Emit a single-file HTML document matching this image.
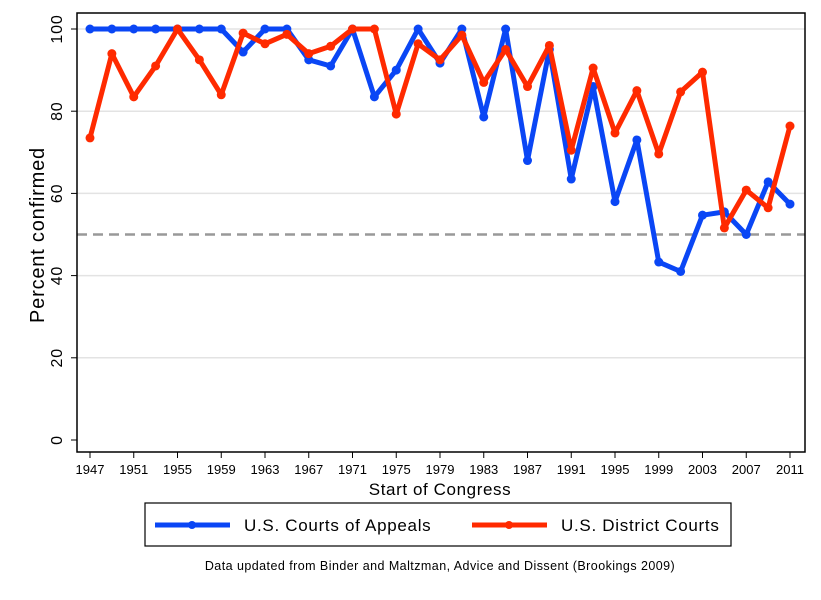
<!DOCTYPE html>
<html><head><meta charset="utf-8"><style>
body{margin:0;background:#fff;font-family:"Liberation Sans","Noto Sans CJK JP",sans-serif}
svg text{font-family:"Liberation Sans","Noto Sans CJK JP",sans-serif}
</style></head><body>
<svg id="c" width="821" height="595" xmlns="http://www.w3.org/2000/svg">
<rect x="0" y="0" width="821" height="595" fill="#fff"/>
<g id="grid"></g>
<g id="series"></g>
<rect x="77" y="13" width="728" height="439" fill="none" stroke="#000" stroke-width="1.5"/>
<g id="axes"></g>
<text x="44" y="235" font-size="20" letter-spacing="0.8" text-anchor="middle" transform="rotate(-90 44 235)">Percent confirmed</text>
<text x="440" y="495" font-size="17" letter-spacing="0.6" text-anchor="middle">Start of Congress</text>
<g>
<rect x="145" y="503" width="586" height="43" fill="#fff" stroke="#000" stroke-width="1.2"/>
<g>
<line x1="155" y1="525" x2="230" y2="525" stroke="#0a46f5" stroke-width="5"/><circle cx="192" cy="525" r="4" fill="#0a46f5"/>
<text x="244" y="531" font-size="17" letter-spacing="0.7">U.S. Courts of Appeals</text></g>
<g>
<line x1="472" y1="525" x2="547" y2="525" stroke="#ff2a00" stroke-width="5"/><circle cx="509" cy="525" r="4" fill="#ff2a00"/>
<text x="561" y="531" font-size="17" letter-spacing="0.7">U.S. District Courts</text></g>
</g>
<text x="440" y="570" font-size="12.5" letter-spacing="0.45" text-anchor="middle">Data updated from Binder and Maltzman, Advice and Dissent (Brookings 2009)</text>
</svg>
<script>
const years=[1947,1949,1951,1953,1955,1957,1959,1961,1963,1965,1967,1969,1971,1973,1975,1977,1979,1981,1983,1985,1987,1989,1991,1993,1995,1997,1999,2001,2003,2005,2007,2009,2011];
const appeals=[100,100,100,100,100,100,100,94.4,100,100,92.5,91,100,83.5,90,100,91.7,100,78.6,100,68,95,63.5,86,58,73,43.3,41,54.7,55.5,50,62.8,57.4];
const district=[73.5,94,83.5,91,100,92.5,84,99,96.4,98.7,94,95.8,100,100,79.3,96.4,92.5,98.5,87,95,86,96,70.5,90.5,74.7,85,69.6,84.7,89.5,51.6,60.8,56.5,76.4];
const yTicks=[0,20,40,60,80,100];
const xTicks=[1947,1951,1955,1959,1963,1967,1971,1975,1979,1983,1987,1991,1995,1999,2003,2007,2011];
const refLine=50;
const NS="http://www.w3.org/2000/svg";
const X=y=>90+(y-1947)*(700/64);
const Y=v=>440-v*4.11;
function mk(t,a,p){const e=document.createElementNS(NS,t);for(const k in a)e.setAttribute(k,a[k]);p.appendChild(e);return e;}
const grid=document.getElementById('grid'),axes=document.getElementById('axes'),ser=document.getElementById('series');
yTicks.forEach(v=>{
 if(v>0){const g=mk('line',{x1:77,x2:805,y1:Y(v),y2:Y(v),stroke:'#e3e3e3','stroke-width':1.5},grid);
 
 }
 const t=mk('line',{x1:71,x2:77,y1:Y(v),y2:Y(v),stroke:'#000'},axes);
 
 
 const l=mk('text',{x:62,y:Y(v),'font-size':16,'letter-spacing':0.8,'text-anchor':'middle',transform:`rotate(-90 62 ${Y(v)})`},axes);
 l.textContent=v;
 
 
});
const rl=mk('line',{x1:77,x2:805,y1:Y(refLine),y2:Y(refLine),stroke:'#999','stroke-width':2.5,'stroke-dasharray':'10 6'},grid);


xTicks.forEach(v=>{
 const t=mk('line',{x1:X(v),x2:X(v),y1:452,y2:458,stroke:'#000'},axes);
 
 
 const l=mk('text',{x:X(v),y:474,'font-size':13,'text-anchor':'middle'},axes);
 l.textContent=v;
 
 
});
function draw(vals,color,name){
 const g=mk('g',{},ser);
 
 
 const pl=mk('polyline',{points:vals.map((v,i)=>X(years[i])+','+Y(v)).join(' '),fill:'none',stroke:color,'stroke-width':5,'stroke-linejoin':'round'},g);
 
 
 vals.forEach((v,i)=>{const c=mk('circle',{cx:X(years[i]),cy:Y(v),r:4.5,fill:color},g);
 
 });
}
draw(appeals,'#0a46f5','appeals-series');
draw(district,'#ff2a00','district-series');
</script>
</body></html>
